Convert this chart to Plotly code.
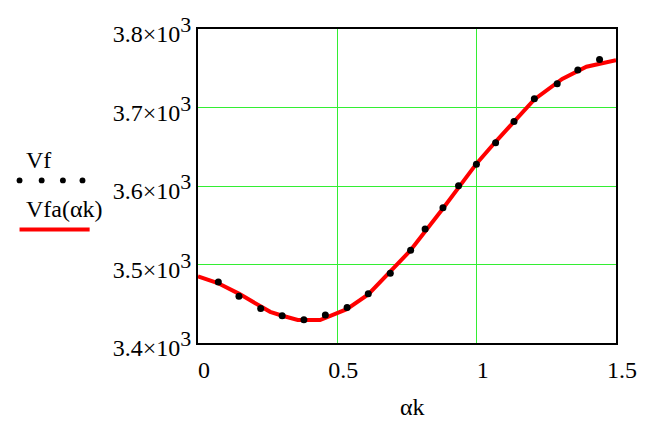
import plotly.graph_objects as go

# Data
vf_x = [0.073, 0.147, 0.225, 0.302, 0.380, 0.457, 0.535, 0.611, 0.690, 0.763,
        0.815, 0.879, 0.935, 0.999, 1.068, 1.134, 1.207, 1.289, 1.363, 1.441]
vf_y = [3477.6, 3459.7, 3443.8, 3434.7, 3429.7, 3435.6, 3445.1, 3462.6, 3488.9, 3518.2,
        3545.3, 3572.4, 3600.4, 3627.6, 3655.1, 3682.3, 3711.1, 3730.2, 3747.8, 3761.2]

fa_x = [0, 0.071, 0.148, 0.224, 0.259, 0.303, 0.358, 0.438, 0.502, 0.534, 0.611,
        0.690, 0.760, 0.877, 1.0, 1.067, 1.131, 1.207, 1.307, 1.394, 1.5]
fa_y = [3485, 3476.4, 3462.6, 3447.2, 3439.7, 3434.7, 3429.3, 3429.3, 3437.6, 3443.1, 3461.9,
        3490.2, 3517, 3570.3, 3628.8, 3656, 3681, 3710.2, 3736.5, 3751.9, 3760.3]

x_ticks = [0, 0.5, 1, 1.5]
x_ticktext = ["0", "0.5", "1", "1.5"]
y_ticks = [3400, 3500, 3600, 3700, 3800]
y_mant = ["3.4", "3.5", "3.6", "3.7", "3.8"]

FONT = "Liberation Serif"
FS = 24
GRID = "#33ee33"

W, H = 649, 423
L, R, T, B = 198, 24, 23, 80
PW, PH = W - L - R, H - T - B

def px(x):
    return (x - L) / PW

def py(y):
    return (H - B - y) / PH

y_ticktext = [f'{m}×10<sup><span style="font-size:{FS-2}px">3</span></sup>' for m in y_mant]

fig = go.Figure()
fig.add_trace(go.Scatter(x=fa_x, y=fa_y, mode="lines",
                         line=dict(color="#ff0000", width=4), showlegend=False))
fig.add_trace(go.Scatter(x=vf_x, y=vf_y, mode="markers",
                         marker=dict(color="black", size=7), showlegend=False))

tf = dict(family=FONT, size=FS, color="black")
fig.update_xaxes(range=[0, 1.5], tickvals=x_ticks, ticktext=x_ticktext,
                 showgrid=True, gridcolor=GRID, gridwidth=1, zeroline=False,
                 showline=True, linecolor="black", linewidth=2, mirror=True,
                 ticks="", ticklabelshift=6, ticklabelstandoff=4, tickfont=tf)
fig.update_yaxes(range=[3400, 3800], tickvals=y_ticks, ticktext=y_ticktext,
                 showgrid=True, gridcolor=GRID, gridwidth=1, zeroline=False,
                 showline=True, linecolor="black", linewidth=2, mirror=True,
                 ticks="", ticklabelshift=5, ticklabelstandoff=0, tickfont=tf)

annotations = [
    dict(text="αk", x=px(417), y=py(408), xref="paper", yref="paper",
         showarrow=False, xanchor="center", yanchor="middle", font=tf),
    dict(text="Vf", x=px(20), y=py(157), xref="paper", yref="paper",
         showarrow=False, xanchor="left", yanchor="middle", font=tf),
    dict(text="Vfa(αk)", x=px(20), y=py(206), xref="paper", yref="paper",
         showarrow=False, xanchor="left", yanchor="middle", font=tf),
]

shapes = []
for cx in [15.7, 38.3, 60, 80]:
    shapes.append(dict(type="circle", xref="paper", yref="paper",
                       x0=px(cx - 3), x1=px(cx + 3), y0=py(177.3 + 3), y1=py(177.3 - 3),
                       fillcolor="black", line=dict(width=0)))
shapes.append(dict(type="line", xref="paper", yref="paper",
                   x0=px(15.7), x1=px(87.3), y0=py(227.3), y1=py(227.3),
                   line=dict(color="#ff0000", width=4)))

fig.update_layout(width=W, height=H, margin=dict(l=L, r=R, t=T, b=B, pad=0),
                  plot_bgcolor="white", paper_bgcolor="white",
                  font=tf, annotations=annotations, shapes=shapes)

fig.write_html("out.html")
